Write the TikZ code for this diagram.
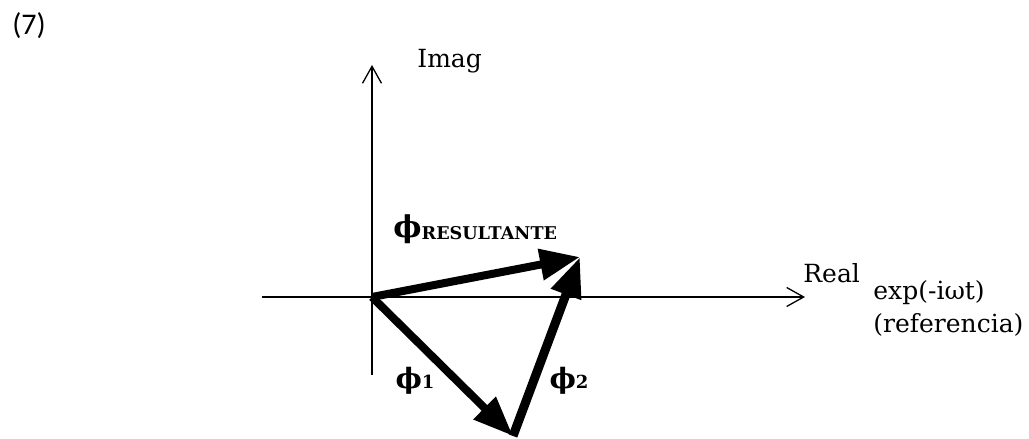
\documentclass[tikz,border=0pt]{standalone}
\usepackage{fontspec}
\setmainfont{DejaVu Serif}
\newfontfamily\numfont{Carlito}
\usetikzlibrary{arrows.meta}

\begin{document}
\begin{tikzpicture}[x=50pt, y=50pt,
  axis/.style={-{Straight Barb[length=8.5pt,width=9.5pt]}, line width=0.65pt},
  phasor/.style={-{Triangle[length=20pt,width=15pt]}, line width=4pt},
  lbl/.style={inner sep=0pt, font=\fontsize{12.5}{15}\selectfont}]
  \useasboundingbox (-3.72,-1.42) rectangle (6.57,2.97);

  % Ejes
  \coordinate (O) at (0,0);
  \coordinate (xmin) at (-1.10,0);
  \coordinate (xmax) at (4.33,0);
  \coordinate (ymin) at (0,-0.78);
  \coordinate (ymax) at (0,2.32);
  \draw[axis] (xmin) -- (xmax);
  \draw[axis] (ymin) -- (ymax);
  \node[lbl, anchor=base west] (imag) at (0.45,2.29) {Imag};
  \node[lbl, anchor=base west] (real) at (4.31,0.14) {Real};
  \node[lbl, anchor=base west] (expo) at (5.01,-0.03) {exp(-iωt)};
  \node[lbl, anchor=base west] (refer) at (5.01,-0.36) {(referencia)};

  % Fasores
  \coordinate (tipR) at (2.08,0.40);
  \coordinate (tip1) at (1.41,-1.39);
  \draw[phasor] (O) -- (tip1);
  \draw[phasor, line width=4.5pt] (tip1) -- (tipR);
  \draw[phasor] (O) -- (tipR);

  % Etiquetas
  \node[lbl, anchor=base west] (phiR) at (0.21,0.59)
    {\bfseries{\fontsize{15}{15}\selectfont ϕ}\raisebox{-1pt}{\fontsize{8.8}{10}\selectfont RESULTANTE}};
  \node[lbl] (phi1) at (0.43,-0.84)
    {\bfseries{\fontsize{14}{14}\selectfont ϕ}{\fontsize{9}{9}\selectfont 1}};
  \node[lbl] (phi2) at (1.97,-0.84)
    {\bfseries{\fontsize{14}{14}\selectfont ϕ}{\fontsize{9}{9}\selectfont 2}};
  \node[inner sep=0pt, font=\numfont\fontsize{15}{17}\selectfont] (num) at (-3.43,2.71) {(7)};
\end{tikzpicture}
\end{document}
